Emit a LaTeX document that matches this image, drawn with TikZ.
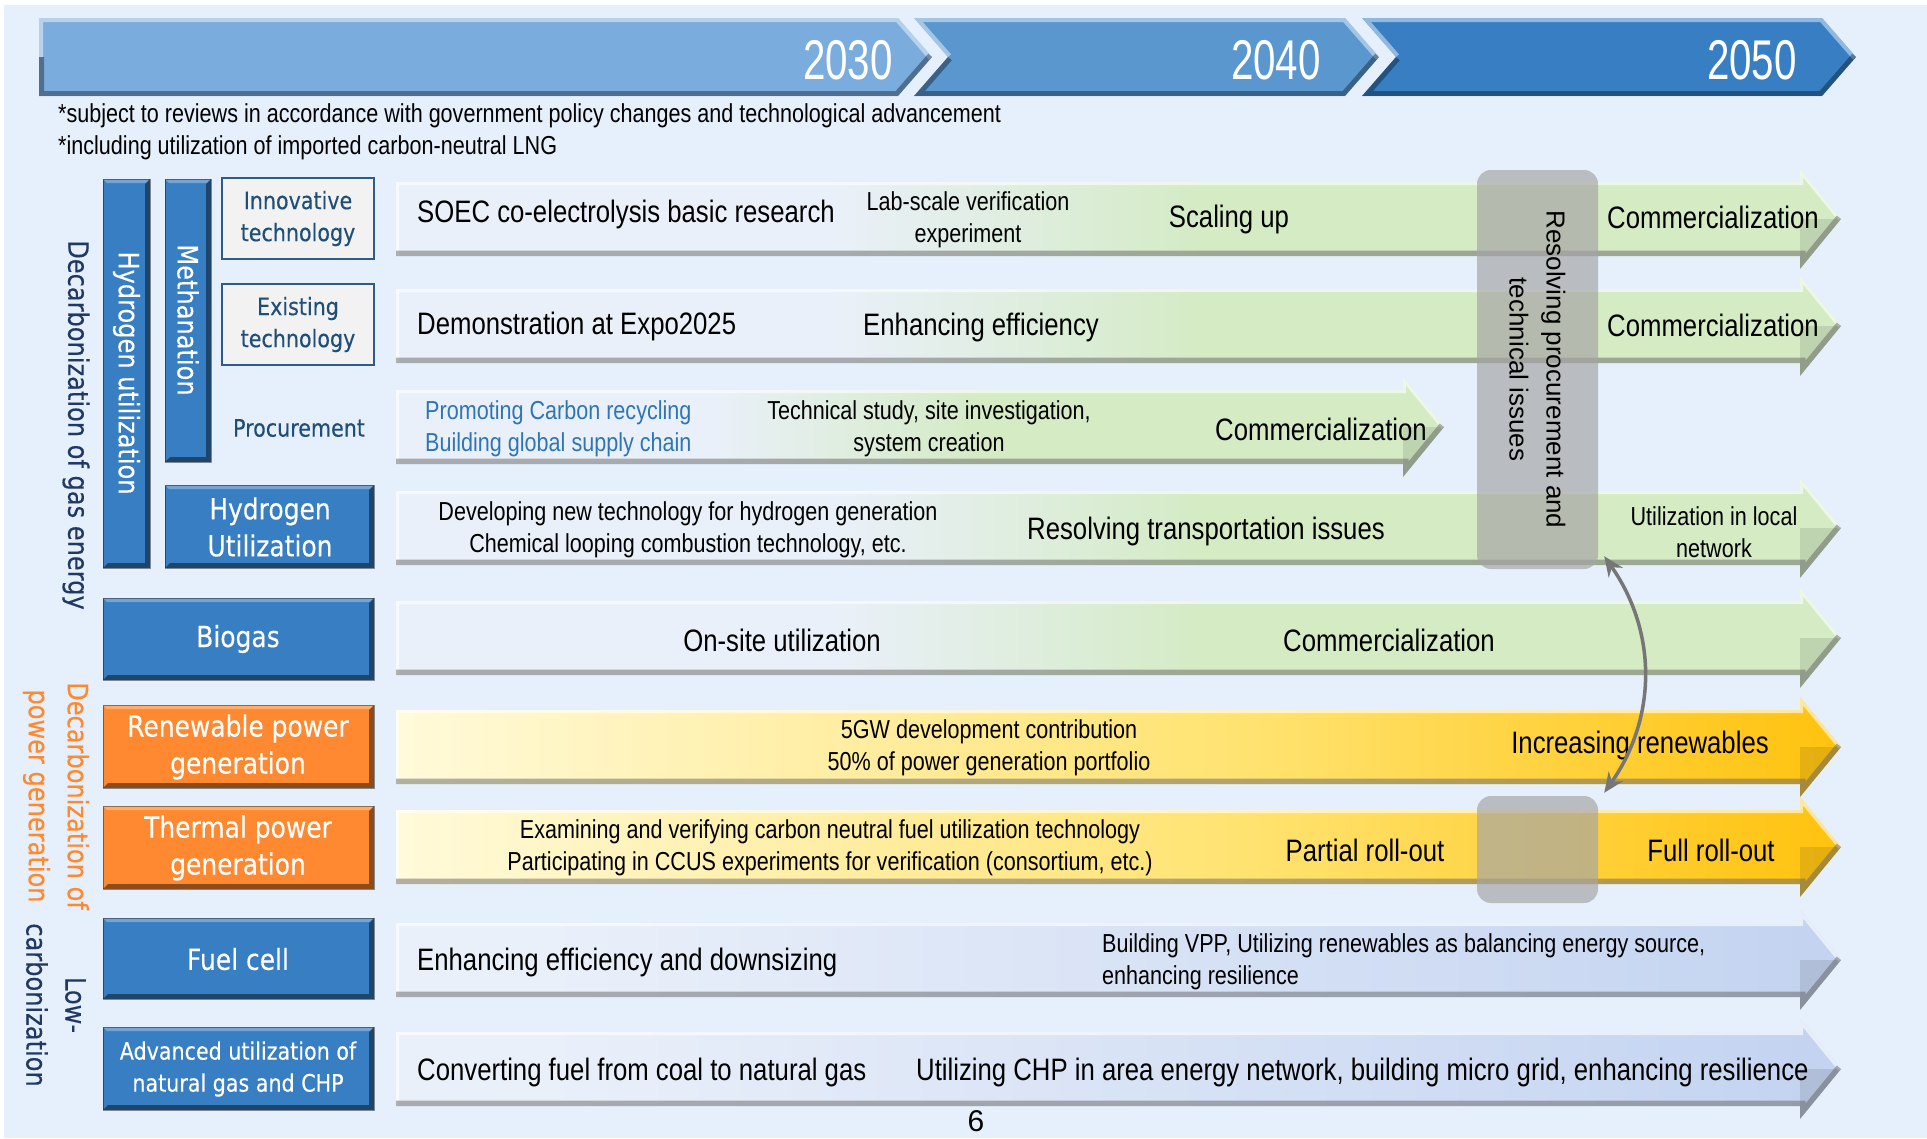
\documentclass[tikz,border=0pt]{standalone}
\usepackage{fontspec}
\usetikzlibrary{arrows.meta}
\setmainfont{Liberation Sans}[FakeStretch=0.83]
\newfontfamily\widefont{Liberation Sans}
\newfontfamily\yearfont{Liberation Sans}[FakeStretch=0.72]
\newfontfamily\boxfont{DejaVu Sans}[FakeStretch=0.86,FakeBold=0.25]
\newcommand\bigtxt{\fontsize{31}{36}\selectfont}
\newcommand\smalltxt{\fontsize{26}{32}\selectfont}

\definecolor{bgblue}{RGB}{230,239,252}
\definecolor{chevA}{RGB}{122,172,222}
\definecolor{chevB}{RGB}{90,151,206}
\definecolor{chevC}{RGB}{56,126,195}
\definecolor{boxblue}{RGB}{56,126,195}
\definecolor{boxorange}{RGB}{255,137,48}
\definecolor{navy}{RGB}{31,56,100}
\definecolor{tagnavy}{RGB}{31,78,121}
\definecolor{tagline}{RGB}{46,90,140}
\definecolor{linkblue}{RGB}{46,117,182}
\definecolor{powerorange}{RGB}{255,138,46}
\definecolor{rowpale}{RGB}{234,240,250}
\definecolor{rowgreen}{RGB}{212,235,196}
\definecolor{ylwpale}{RGB}{255,250,218}
\definecolor{ylwmid}{RGB}{255,226,110}
\definecolor{ylwdeep}{RGB}{255,194,14}
\definecolor{rowblue}{RGB}{195,211,240}
\definecolor{linkgray}{RGB}{118,118,118}
\definecolor{overlay}{RGB}{165,165,165}

\pgfdeclarehorizontalshading{greenrow}{100bp}{color(0bp)=(rowpale); color(40bp)=(rowpale); color(53bp)=(rowgreen); color(100bp)=(rowgreen)}
\pgfdeclarehorizontalshading{yellowrow}{100bp}{color(0bp)=(ylwpale); color(25bp)=(ylwpale); color(55bp)=(ylwmid); color(75bp)=(ylwdeep); color(100bp)=(ylwdeep)}
\pgfdeclarehorizontalshading{bluerow}{100bp}{color(0bp)=(rowpale); color(30bp)=(rowpale); color(75bp)=(rowblue); color(100bp)=(rowblue)}

% year chevron: left x, notch depth, body end x, colour
\newcommand\chevron[4]{%
  \begin{scope}
    \clip (#1,18) -- (#3,18) -- (#3+34,57) -- (#3,96) -- (#1,96) -- (#1+#2,57) -- cycle;
    \fill[#4] (#1,18) rectangle (#3+34,96);
    \draw[white,opacity=.45,line width=8pt] (#1+#2,57) -- (#1,18) -- (#3,18) -- (#3+34,57);
    \draw[black,opacity=.35,line width=10pt] (#1+#2,57) -- (#1,96) -- (#3,96) -- (#3+34,57);
  \end{scope}}

% row arrow: centre y, head base x, shading
\newcommand\rowarrow[3]{%
  \begin{scope}
    \clip (396,#1-37) -- (#2,#1-37) -- (#2,#1-50) -- (#2+41,#1) -- (#2,#1+50) -- (#2,#1+37) -- (396,#1+37) -- cycle;
    \shade[shading=#3] (396,#1-50) rectangle (#2+41,#1+50);
    \fill[black,opacity=.1] (#2,#1) -- (#2+41,#1) -- (#2,#1+50) -- cycle;
    \draw[white,opacity=.6,line width=6pt] (396,#1+37) -- (396,#1-37) -- (#2,#1-37) -- (#2,#1-50) -- (#2+41,#1);
    \draw[black!60,opacity=.5,line width=11pt] (396,#1+37) -- (#2,#1+37) -- (#2,#1+50) -- (#2+41,#1);
  \end{scope}}

% bevelled tag: x1, y1, x2, y2, colour
\newcommand\bevelbox[5]{%
  \fill[#5] (#1,#2) rectangle (#3,#4);
  \fill[white,opacity=.3] (#1,#2) -- (#3,#2) -- (#3-4,#2+4) -- (#1+4,#2+4) -- cycle;
  \fill[black,opacity=.45] (#1,#4) -- (#3,#4) -- (#3,#2) -- (#3-5,#2+5) -- (#3-5,#4-5) -- (#1+5,#4-5) -- cycle;
  \draw[black,opacity=.4,line width=1pt] (#1,#2) rectangle (#3,#4);}

\tikzset{
  rowtext/.style={font=\bigtxt, inner sep=0pt},
  rowsmall/.style={font=\smalltxt, align=center, inner sep=0pt},
  notetext/.style={font=\fontsize{26}{32}\selectfont, anchor=west, inner sep=0pt},
  tagtext/.style={font=\boxfont\fontsize{29}{37}\selectfont, text=white, align=center, inner sep=0pt},
  sidetext/.style={font=\boxfont\fontsize{28}{39}\selectfont, align=center, rotate=-90, inner sep=0pt},
  yeartext/.style={font=\yearfont\fontsize{56}{56}\selectfont, text=white, anchor=east, inner sep=0pt},
  tagbox/.style={fill=gray!10, draw=tagline, line width=2.5pt, text=tagnavy, align=center,
    font=\boxfont\fontsize{24}{32}\selectfont, minimum width=152pt, minimum height=81pt, inner sep=0pt},
  greybox/.style={fill=overlay, fill opacity=.68, rounded corners=14pt, minimum width=121pt, inner sep=0pt},
  link/.style={{Stealth[length=20pt,width=17pt]}-{Stealth[length=20pt,width=17pt]}, draw=linkgray, line width=3.5pt},
}

\begin{document}
\begin{tikzpicture}[x=1pt, y=-1pt]
\useasboundingbox (0,0) rectangle (1927,1138);
\fill[white] (0,0) rectangle (1927,1138);
\fill[bgblue] (4,5) rectangle (1927,1138);

% years
\chevron{39}{0}{898}{chevA}
\chevron{914}{34}{1345}{chevB}
\chevron{1362}{34}{1822}{chevC}
\node[yeartext] (y2030) at (893,60) {2030};
\node[yeartext] (y2040) at (1321,60) {2040};
\node[yeartext] (y2050) at (1797,60) {2050};

% notes
\node[notetext] (noteA) at (58,116) {*subject to reviews in accordance with government policy changes and technological advancement};
\node[notetext] (noteB) at (58,148) {*including utilization of imported carbon-neutral LNG};

% row arrows
\rowarrow{219}{1800}{greenrow}
\rowarrow{326}{1800}{greenrow}
\rowarrow{427}{1403}{greenrow}
\rowarrow{528}{1800}{greenrow}
\rowarrow{638}{1800}{greenrow}
\rowarrow{747}{1800}{yellowrow}
\rowarrow{847}{1800}{yellowrow}
\rowarrow{960}{1800}{bluerow}
\rowarrow{1069}{1800}{bluerow}

% left tags
\bevelbox{103}{179}{150}{568}{boxblue}
\bevelbox{165}{179}{211}{462}{boxblue}
\bevelbox{165}{485}{374}{568}{boxblue}
\bevelbox{103}{598}{374}{680}{boxblue}
\bevelbox{103}{705}{374}{788}{boxorange}
\bevelbox{103}{806}{374}{889}{boxorange}
\bevelbox{103}{918}{374}{999}{boxblue}
\bevelbox{103}{1027}{374}{1110}{boxblue}

\node[sidetext, text=navy] (gaslbl) at (76,425) {Decarbonization of gas energy};
\node[sidetext, text=powerorange] (powerlbl) at (56,796) {Decarbonization of\\power generation};
\node[sidetext, text=navy] (lowlbl) at (56,1005) {Low-\\carbonization};
\node[sidetext, text=white] (h2bar) at (126.5,373) {Hydrogen utilization};
\node[sidetext, text=white] (methbar) at (188,320) {Methanation};
\node[tagbox] (innov) at (298,218.5) {Innovative\\technology};
\node[tagbox] (exist) at (298,324.5) {Existing\\technology};
\node[tagtext, text=tagnavy, font=\boxfont\fontsize{24}{32}\selectfont] (procure) at (299,428) {Procurement};
\node[tagtext] (h2use) at (270,527) {Hydrogen\\Utilization};
\node[tagtext] (biogas) at (238,639) {Biogas};
\node[tagtext] (renew) at (238,747) {Renewable power\\generation};
\node[tagtext] (thermal) at (238,848) {Thermal power\\generation};
\node[tagtext] (fuelcell) at (238,959) {Fuel cell};
\node[tagtext, font=\boxfont\fontsize{24}{32}\selectfont] (chp) at (238,1069) {Advanced utilization of\\natural gas and CHP};

% grey overlays
\node[greybox, minimum height=399pt] (resolve) at (1537.5,369.5) {};
\node[greybox, minimum height=107pt] (rollgap) at (1537.5,849.5) {};
\node[sidetext, font=\widefont\fontsize{26}{37}\selectfont] (resolvetxt) at (resolve) {Resolving procurement and\\technical issues};

% methanation rows
\node[rowtext, anchor=west] (soec) at (417,214) {SOEC co-electrolysis basic research};
\node[rowsmall] (labscale) at (968,220) {Lab-scale verification\\experiment};
\node[rowtext] (scaling) at (1229,219) {Scaling up};
\node[rowtext] (commA) at (1713,217) {Commercialization};
\node[rowtext, anchor=west] (demo) at (417,326) {Demonstration at Expo2025};
\node[rowtext] (enheff) at (981,327) {Enhancing efficiency};
\node[rowtext] (commB) at (1713,325) {Commercialization};
\node[rowsmall, align=left, anchor=west, text=linkblue] (promo) at (425,429) {Promoting Carbon recycling\\Building global supply chain};
\node[rowsmall] (techstudy) at (929,429) {Technical study, site investigation,\\system creation};
\node[rowtext] (commC) at (1321,429) {Commercialization};

% hydrogen, biogas
\node[rowsmall] (devtech) at (688,530) {Developing new technology for hydrogen generation\\Chemical looping combustion technology, etc.};
\node[rowtext] (transport) at (1206,531) {Resolving transportation issues};
\node[rowsmall] (localnet) at (1714,532) {Utilization in local\\network};
\node[rowtext] (onsite) at (782,640) {On-site utilization};
\node[rowtext] (commD) at (1389,640) {Commercialization};

% power generation
\node[rowsmall] (gw) at (989,748) {5GW development contribution\\50\% of power generation portfolio};
\node[rowtext] (increase) at (1640,745) {Increasing renewables};
\node[rowsmall] (examine) at (830,848) {Examining and verifying carbon neutral fuel utilization technology\\Participating in CCUS experiments for verification (consortium, etc.)};
\node[rowtext] (partial) at (1365,850) {Partial roll-out};
\node[rowtext] (fullroll) at (1711,850) {Full roll-out};

% low-carbonization
\node[rowtext, anchor=west] (downsize) at (417,962) {Enhancing efficiency and downsizing};
\node[rowsmall, align=left, anchor=west] (vpp) at (1102,962) {Building VPP, Utilizing renewables as balancing energy source,\\enhancing resilience};
\node[rowtext, anchor=west] (coal) at (417,1072) {Converting fuel from coal to natural gas};
\node[rowtext, anchor=west] (chpnet) at (916,1072) {Utilizing CHP in area energy network, building micro grid, enhancing resilience};
\node[inner sep=0pt, font=\widefont\fontsize{30}{30}\selectfont] (pageno) at (976,1121) {6};

\draw[link] ([shift={(6pt,13pt)}]resolve.south east) to[bend left=35] ([shift={(6pt,3pt)}]rollgap.north east);
\end{tikzpicture}
\end{document}
